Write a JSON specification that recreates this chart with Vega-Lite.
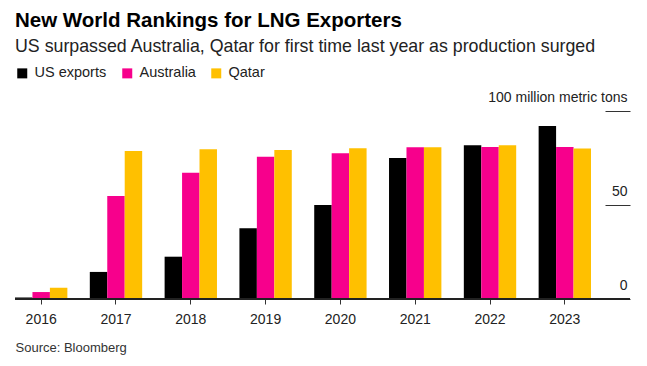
{
  "$schema": "https://vega.github.io/schema/vega-lite/v6.json",
  "width": 615,
  "height": 188,
  "padding": {"left": 14, "top": 10, "right": 18, "bottom": 4},
  "background": "white",
  "title": {
    "text": "New World Rankings for LNG Exporters",
    "subtitle": "US surpassed Australia, Qatar for first time last year as production surged",
    "anchor": "start",
    "frame": "group",
    "font": "Liberation Sans",
    "fontSize": 20.5,
    "fontWeight": "bold",
    "color": "#000000",
    "subtitleFont": "Liberation Sans",
    "subtitleFontSize": 17.8,
    "subtitleColor": "#222222",
    "subtitlePadding": 7,
    "offset": 10
  },
  "config": {
    "view": {"stroke": null},
    "font": "Liberation Sans"
  },
  "data": {
    "values": [
      {"year": "2016", "country": "US exports", "value": 0.8},
      {"year": "2016", "country": "Australia", "value": 3.7},
      {"year": "2016", "country": "Qatar", "value": 6.0},
      {"year": "2017", "country": "US exports", "value": 14.4},
      {"year": "2017", "country": "Australia", "value": 54.8},
      {"year": "2017", "country": "Qatar", "value": 78.7},
      {"year": "2018", "country": "US exports", "value": 22.5},
      {"year": "2018", "country": "Australia", "value": 67.2},
      {"year": "2018", "country": "Qatar", "value": 79.6},
      {"year": "2019", "country": "US exports", "value": 37.6},
      {"year": "2019", "country": "Australia", "value": 75.7},
      {"year": "2019", "country": "Qatar", "value": 79.3},
      {"year": "2020", "country": "US exports", "value": 50.0},
      {"year": "2020", "country": "Australia", "value": 77.5},
      {"year": "2020", "country": "Qatar", "value": 80.2},
      {"year": "2021", "country": "US exports", "value": 75.0},
      {"year": "2021", "country": "Australia", "value": 80.7},
      {"year": "2021", "country": "Qatar", "value": 80.7},
      {"year": "2022", "country": "US exports", "value": 81.8},
      {"year": "2022", "country": "Australia", "value": 80.9},
      {"year": "2022", "country": "Qatar", "value": 81.8},
      {"year": "2023", "country": "US exports", "value": 92.0},
      {"year": "2023", "country": "Australia", "value": 80.9},
      {"year": "2023", "country": "Qatar", "value": 80.0}
    ]
  },
  "layer": [
    {
      "mark": {"type": "bar"},
      "encoding": {
        "x": {
          "field": "year",
          "type": "nominal",
          "scale": {"type": "band", "paddingInner": 0.3, "paddingOuter": 0, "range": [0, 576]},
          "axis": {
            "labelAngle": 0,
            "domain": false,
            "ticks": true,
            "tickSize": 5,
            "tickColor": "#333333",
            "labelFontSize": 14,
            "labelColor": "#222222",
            "labelPadding": 8,
            "title": "Source: Bloomberg",
            "titleAnchor": "start",
            "titleAlign": "left",
            "titleFontWeight": "normal",
            "titleFontSize": 13,
            "titleColor": "#333333",
            "titlePadding": 15
          }
        },
        "xOffset": {"field": "country", "type": "nominal", "sort": ["US exports", "Australia", "Qatar"]},
        "y": {
          "field": "value",
          "type": "quantitative",
          "scale": {"domain": [0, 100], "nice": false},
          "axis": {
            "orient": "right",
            "title": null,
            "values": [0, 50, 100],
            "domain": false,
            "grid": false,
            "ticks": true,
            "tickSize": -25,
            "tickColor": "#333333",
            "labelAlign": "right",
            "labelBaseline": "alphabetic",
            "labelOffset": -10,
            "labelPadding": 22,
            "labelFontSize": 14,
            "labelColor": "#222222",
            "labelExpr": "datum.value == 100 ? '100 million metric tons' : datum.label"
          }
        },
        "color": {
          "field": "country",
          "type": "nominal",
          "sort": ["US exports", "Australia", "Qatar"],
          "scale": {"domain": ["US exports", "Australia", "Qatar"], "range": ["#000000", "#f7008c", "#ffc000"]},
          "legend": {
            "title": null,
            "orient": "none",
            "direction": "horizontal",
            "legendX": 0,
            "legendY": -45,
            "symbolType": "square",
            "symbolSize": 100,
            "symbolStrokeWidth": 0,
            "labelFontSize": 14.5,
            "labelColor": "#222222",
            "columnPadding": 13,
            "labelOffset": 5
          }
        }
      }
    },
    {
      "mark": {"type": "rule", "color": "#222222", "strokeWidth": 1},
      "encoding": {"y": {"datum": 0}}
    }
  ]
}
